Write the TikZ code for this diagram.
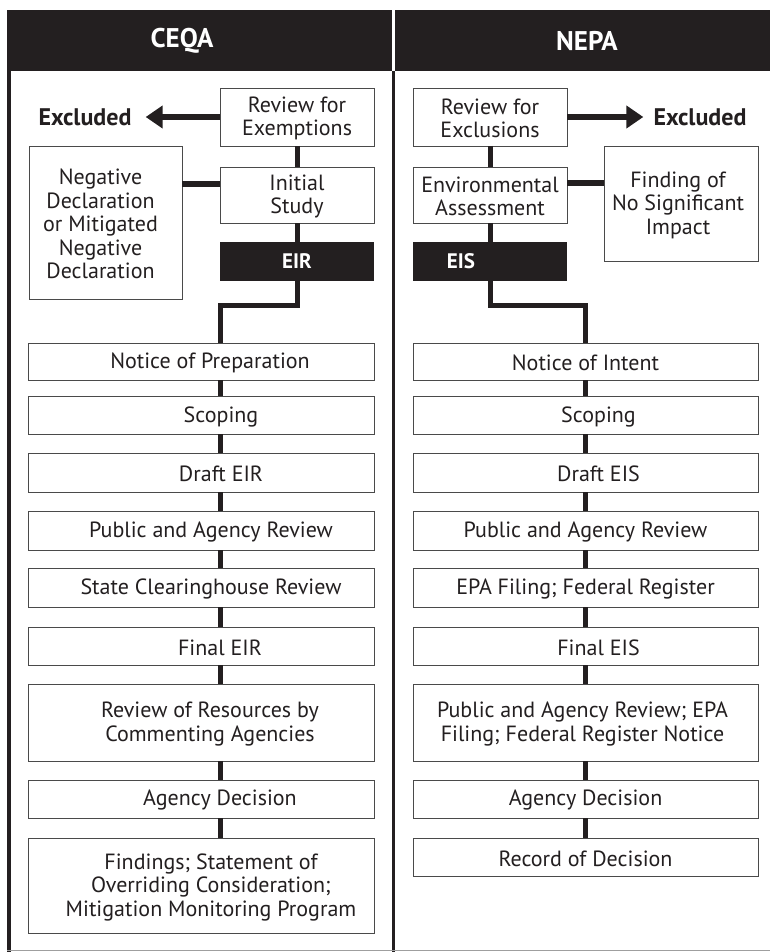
\documentclass[tikz,border=0pt]{standalone}
\usepackage{fontspec}
\setmainfont{PT Sans}
\usetikzlibrary{arrows.meta}
\definecolor{ink}{HTML}{231F20}
\definecolor{edge}{HTML}{4A4A4A}
\begin{document}
\begin{tikzpicture}[x=1pt,y=-1pt,
  pbox/.style={draw=edge,line width=0.9pt,fill=white,inner sep=0pt,outer sep=0pt},
  blk/.style={fill=ink,inner sep=0pt,outer sep=0pt},
  btxt/.style={text=ink,font=\fontsize{22}{23.5}\selectfont,align=center,inner sep=0pt,yshift=-1.5pt},
  wtxt/.style={text=white,font=\fontsize{21}{24}\selectfont\bfseries,inner sep=0pt},
  hdr/.style={text=white,font=\fontsize{27}{30}\selectfont\bfseries,inner sep=0pt},
  excl/.style={text=ink,font=\fontsize{24}{27}\selectfont\bfseries,inner ysep=0pt},
  conn/.style={draw=ink,line width=5pt,line join=miter},
  arr/.style={draw=ink,line width=5.5pt,-{Triangle[length=17pt,width=22pt]}},
  colL/.style={pbox,minimum width=346pt},
  colR/.style={pbox,minimum width=345pt}
]
\useasboundingbox (0,0) rectangle (770,952);
\fill[white] (0,0) rectangle (770,952);

% header
\node[blk,minimum width=385pt,minimum height=60.5pt,
  label={[hdr,xshift=-17.5pt]center:CEQA}] (hl) at (199.5,40.75) {};
\node[blk,minimum width=375pt,minimum height=60.5pt,
  label={[hdr,xshift=4.5pt]center:NEPA}] (hr) at (582.5,40.75) {};

% frame
\draw[ink,line width=3.7pt] (9.2,71) -- (9.2,952);
\draw[ink,line width=3.4pt] (393.5,71) -- (393.5,952);
\draw[gray!75,line width=1.2pt] (7,950.5) -- (770,950.5);

% ---------- CEQA top ----------
\node[pbox,minimum width=154pt,minimum height=58pt,
  label={[btxt]center:{Review for\\Exemptions}}] (lrev) at (297,117) {};
\node[pbox,minimum width=154pt,minimum height=56pt,
  label={[btxt]center:{Initial\\Study}}] (linit) at (297,195) {};
\node[blk,minimum width=154pt,minimum height=39pt,
  label={[wtxt]center:EIR}] (eir) at (297,261.5) {};
\node[pbox,minimum width=153pt,minimum height=153pt,
  label={[btxt,xshift=-5pt]center:{Negative\\Declaration\\or Mitigated\\Negative\\Declaration}}] (neg) at (105.5,222.5) {};
\node[excl,inner xsep=14pt] (lexc) at (85,117) {Excluded};

% ---------- NEPA top ----------
\node[pbox,minimum width=154pt,minimum height=58pt,
  label={[btxt]center:{Review for\\Exclusions}}] (rrev) at (490,117) {};
\node[pbox,minimum width=154pt,minimum height=56pt,
  label={[btxt]center:{Environmental\\Assessment}}] (ea) at (490,195) {};
\node[blk,minimum width=154pt,minimum height=39pt,
  label={[wtxt,xshift=-29pt]center:EIS}] (eis) at (490,261.5) {};
\node[pbox,minimum width=154pt,minimum height=115pt,
  label={[btxt,xshift=-3pt]center:{Finding of\\No Significant\\Impact}}] (fonsi) at (681,203.5) {};
\node[excl,inner xsep=10pt] (rexc) at (700,117) {Excluded};

% ---------- CEQA column ----------
\node[colL,minimum height=37pt,label={[btxt,xshift=9pt]center:Notice of Preparation}] (l1) at (201,361.5) {};
\node[colL,minimum height=38pt,label={[btxt,xshift=20pt]center:Scoping}] (l2) at (201,415) {};
\node[colL,minimum height=39pt,label={[btxt,xshift=20pt]center:Draft EIR}] (l3) at (201,472.5) {};
\node[colL,minimum height=39pt,label={[btxt,xshift=10pt]center:Public and Agency Review}] (l4) at (201,530.5) {};
\node[colL,minimum height=39pt,label={[btxt,xshift=10pt]center:State Clearinghouse Review}] (l5) at (201,587.5) {};
\node[colL,minimum height=38pt,label={[btxt,xshift=19pt]center:Final EIR}] (l6) at (201,646) {};
\node[colL,minimum height=77pt,label={[btxt,xshift=9pt]center:{Review of Resources by\\Commenting Agencies}}] (l7) at (201,722.5) {};
\node[colL,minimum height=38pt,label={[btxt,xshift=19pt]center:Agency Decision}] (l8) at (201,799) {};
\node[colL,minimum height=95pt,label={[btxt,xshift=10pt]center:{Findings; Statement of\\Overriding Consideration;\\Mitigation Monitoring Program}}] (l9) at (201,885.5) {};

% ---------- NEPA column ----------
\node[colR,minimum height=37pt,label={[btxt]center:Notice of Intent}] (r1) at (585.5,361.5) {};
\node[colR,minimum height=38pt,label={[btxt,xshift=13pt]center:Scoping}] (r2) at (585.5,415) {};
\node[colR,minimum height=39pt,label={[btxt,xshift=13pt]center:Draft EIS}] (r3) at (585.5,472.5) {};
\node[colR,minimum height=39pt,label={[btxt]center:Public and Agency Review}] (r4) at (585.5,530.5) {};
\node[colR,minimum height=39pt,label={[btxt]center:EPA Filing; Federal Register}] (r5) at (585.5,587.5) {};
\node[colR,minimum height=38pt,label={[btxt,xshift=13pt]center:Final EIS}] (r6) at (585.5,646) {};
\node[colR,minimum height=77pt,label={[btxt,xshift=-3pt]center:{Public and Agency Review; EPA\\Filing; Federal Register Notice}}] (r7) at (585.5,722.5) {};
\node[colR,minimum height=38pt,label={[btxt]center:Agency Decision}] (r8) at (585.5,799) {};
\node[colR,minimum height=38pt,label={[btxt]center:Record of Decision}] (r9) at (585.5,857) {};

% ---------- connectors ----------
\coordinate (lx) at (220,0);
\coordinate (rx) at (585.5,0);
\coordinate (lbend) at (220,305);
\coordinate (rbend) at (585.5,305);
\coordinate (ly) at (0,184);
\coordinate (ry) at (0,183);

\draw[arr] (lrev.west) -- (lexc.east);
\draw[conn] (lrev.south) -- (linit.north);
\draw[conn] (linit.west |- ly) -- (neg.east |- ly);
\draw[conn] (linit.south) -- (eir.north);
\draw[conn] (eir.south) |- (lbend) -- (l1.north -| lbend);

\draw[arr] (rrev.east) -- (rexc.west);
\draw[conn] (rrev.south) -- (ea.north);
\draw[conn] (ea.east |- ry) -- (fonsi.west |- ry);
\draw[conn] (ea.south) -- (eis.north);
\draw[conn] (eis.south) |- (rbend) -- (r1.north -| rbend);

\foreach \a/\b in {l1/l2,l2/l3,l3/l4,l4/l5,l5/l6,l6/l7,l7/l8,l8/l9}
  \draw[conn] (\a.south -| lx) -- (\b.north -| lx);
\foreach \a/\b in {r1/r2,r2/r3,r3/r4,r4/r5,r5/r6,r6/r7,r7/r8,r8/r9}
  \draw[conn] (\a.south -| rx) -- (\b.north -| rx);
\end{tikzpicture}
\end{document}
